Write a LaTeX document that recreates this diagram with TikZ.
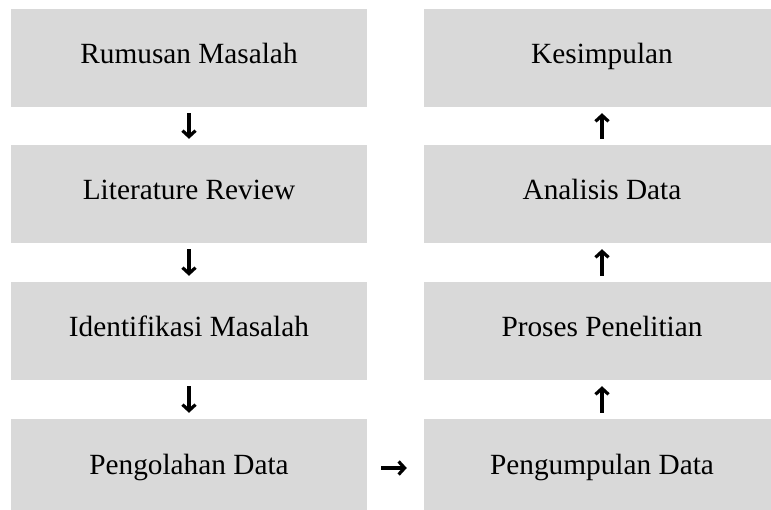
\documentclass[tikz,border=0pt]{standalone}
\usepackage{fontspec}
\setmainfont{Liberation Serif}
\usetikzlibrary{arrows.meta}
\definecolor{boxgray}{HTML}{D9D9D9}
\begin{document}
\begin{tikzpicture}[x=1pt,y=-1pt,
  stepbox/.style={fill=boxgray, draw=none, minimum width=356pt, minimum height=98pt,
    inner sep=0pt, text height=21pt, text depth=9pt,
    font=\fontsize{29.3}{34}\selectfont, text=black},
  flow/.style={line width=3.2pt, black,
    -{Straight Barb[length=6pt,width=13pt,line width=3.2pt]}}]
\useasboundingbox (0,0) rectangle (771,510);
\begin{scope}
\clip (0,0) rectangle (771,510);
\node[stepbox] (rm) at (189,58) {Rumusan Masalah};
\node[stepbox] (lr) at (189,194) {Literature Review};
\node[stepbox] (im) at (189,331) {Identifikasi Masalah};
\node[stepbox] (pd) at (189,468) {Pengolahan Data};
\node[stepbox] (ks) at (602,58) {Kesimpulan};
\node[stepbox] (ad) at (602,194) {Analisis Data};
\node[stepbox] (pp) at (602,331) {Proses Penelitian};
\node[stepbox] (pg) at (602,468) {Pengumpulan Data};
\end{scope}
\draw[flow, shorten <=6pt, shorten >=6pt] (rm.south) -- (lr.north);
\draw[flow, shorten <=6pt, shorten >=6pt] (lr.south) -- (im.north);
\draw[flow, shorten <=6pt, shorten >=6pt] (im.south) -- (pd.north);
\draw[flow, shorten <=14pt, shorten >=17pt] (pd.east) -- (pg.west);
\draw[flow, shorten <=6pt, shorten >=6pt] (pg.north) -- (pp.south);
\draw[flow, shorten <=6pt, shorten >=6pt] (pp.north) -- (ad.south);
\draw[flow, shorten <=6pt, shorten >=6pt] (ad.north) -- (ks.south);
\end{tikzpicture}
\end{document}
